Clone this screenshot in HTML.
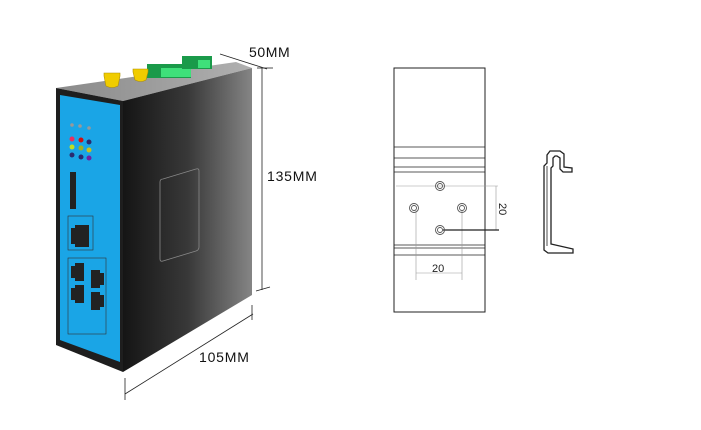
<!DOCTYPE html>
<html><head><meta charset="utf-8"><style>
html,body{margin:0;padding:0;background:#fff;}
svg{display:block;}
text{font-family:"Liberation Sans",sans-serif;}
</style></head><body>
<svg width="701" height="430" viewBox="0 0 701 430" xmlns="http://www.w3.org/2000/svg">
<defs>
<linearGradient id="side" x1="0" x2="1" y1="0" y2="0">
<stop offset="0" stop-color="#151515"/><stop offset="0.5" stop-color="#383838"/><stop offset="1" stop-color="#858585"/>
</linearGradient>
<linearGradient id="top" x1="0" x2="1"><stop offset="0" stop-color="#8a8a8a"/><stop offset="1" stop-color="#b0b0b0"/></linearGradient>
</defs>
<!-- top face -->
<polygon points="56,88 123,101 252,68 236,62" fill="url(#top)"/>
<!-- connectors -->
<rect x="147" y="64" width="44" height="14" fill="#1a9a4a"/>
<rect x="161" y="68" width="30" height="9" fill="#3fe07a"/>
<rect x="182" y="56" width="30" height="13" fill="#1a9a4a"/>
<rect x="198" y="60" width="12" height="8" fill="#3fe07a"/>
<path d="M104,73 h16 v3 l-2,10 q-6,3 -12,0 l-2,-10 z" fill="#f0cc00" stroke="#b09000" stroke-width="0.6"/>
<path d="M133,69 h15 v3 l-2,8 q-5,3 -11,0 l-2,-8 z" fill="#f0cc00" stroke="#b09000" stroke-width="0.6"/>
<!-- side face -->
<polygon points="123,101 252,68 252,295 123,372" fill="url(#side)"/>
<path d="M160,182 q0,-3 3,-3 l33,-10 q3,-1 3,2 v76 q0,3 -3,4 l-33,10 q-3,1 -3,-2 z" fill="none" stroke="#888" stroke-width="0.8"/>
<!-- front frame -->
<polygon points="56,88 123,101 123,372 56,345" fill="#1e1e1e"/>
<polygon points="60,95 120,105 120,362 60,340" fill="#1aa5e6"/>
<!-- LEDs -->
<g fill="#999"><circle cx="72" cy="125" r="1.8"/><circle cx="80" cy="126" r="1.8"/><circle cx="89" cy="128" r="1.8"/></g>
<circle cx="72" cy="139" r="2.5" fill="#e83060"/><circle cx="81" cy="140" r="2.5" fill="#d01010"/><circle cx="89" cy="142" r="2.5" fill="#2a2a70"/>
<circle cx="72" cy="147" r="2.5" fill="#c0e020"/><circle cx="81" cy="148" r="2.5" fill="#a0b020"/><circle cx="89" cy="150" r="2.5" fill="#c8c020"/>
<circle cx="72" cy="155" r="2.5" fill="#2a2a70"/><circle cx="81" cy="157" r="2.5" fill="#2a2a70"/><circle cx="89" cy="158" r="2.5" fill="#7020a0"/>
<rect x="70" y="172" width="6" height="37" fill="#222"/>
<!-- ports -->
<rect x="68" y="216" width="25" height="34" fill="none" stroke="#333" stroke-width="0.6"/>
<path d="M71,228 h4 v-3 h14 v22 h-14 v-3 h-4 z" fill="#222"/>
<rect x="68" y="258" width="38" height="76" fill="none" stroke="#333" stroke-width="0.6"/>
<path d="M71,266 h4 v-3 h9 v18 h-9 v-3 h-4 z" fill="#222"/>
<path d="M71,288 h4 v-3 h9 v18 h-9 v-3 h-4 z" fill="#222"/>
<path d="M91,270 h9 v3 h4 v12 h-4 v3 h-9 z" fill="#222"/>
<path d="M91,292 h9 v3 h4 v12 h-4 v3 h-9 z" fill="#222"/>
<!-- dimension lines -->
<g stroke="#222" stroke-width="0.8" fill="none">
<line x1="220" y1="54" x2="267" y2="69"/>
<line x1="257" y1="68" x2="273" y2="68"/>
<line x1="262" y1="68" x2="262" y2="290"/>
<line x1="256" y1="291" x2="270" y2="287"/>
<line x1="125" y1="394" x2="253" y2="314"/>
<line x1="125" y1="378" x2="125" y2="400"/>
<line x1="252" y1="305" x2="252" y2="320"/>
</g>
<text x="249" y="57" font-size="14" letter-spacing="0.6" fill="#111">50MM</text>
<text x="267" y="181" font-size="14" letter-spacing="0.8" fill="#111">135MM</text>
<text x="199" y="362" font-size="14" letter-spacing="0.8" fill="#111">105MM</text>
<!-- DIN rail diagram -->
<g stroke="#222" fill="none">
<rect x="394" y="68" width="91" height="244" stroke-width="1"/>
<g stroke-width="0.8">
<line x1="394" y1="147" x2="485" y2="147"/><line x1="394" y1="158" x2="485" y2="158"/>
<line x1="394" y1="167" x2="485" y2="167"/><line x1="394" y1="172" x2="485" y2="172"/>
<line x1="394" y1="245" x2="485" y2="245"/><line x1="394" y1="248" x2="485" y2="248"/>
<line x1="394" y1="255" x2="485" y2="255"/>
</g>
<g stroke="#999" stroke-width="0.6">
<line x1="396" y1="186" x2="498" y2="186"/>
<line x1="416" y1="210" x2="416" y2="280"/><line x1="462" y1="210" x2="462" y2="280"/>
<line x1="416" y1="273" x2="462" y2="273"/>
<line x1="496" y1="186" x2="496" y2="230"/>
</g>
<line x1="443" y1="230" x2="499" y2="230" stroke-width="1.2"/>
<g stroke="#555" stroke-width="0.9">
<circle cx="440" cy="186" r="4.5"/><circle cx="440" cy="186" r="2.5"/>
<circle cx="414" cy="208" r="4.5"/><circle cx="414" cy="208" r="2.5"/>
<circle cx="462" cy="208" r="4.5"/><circle cx="462" cy="208" r="2.5"/>
<circle cx="440" cy="230" r="4.5"/><circle cx="440" cy="230" r="2.5"/>
</g>
<path d="M544,250 V166 L547,163 V155 L550,151 H560 L564,154 V167 L572,168 V172 H563 L560,169 V158 L557,156 H555 L553,158 V166 L551,168 V244 L573,249 V253 H548 L544,250 Z" stroke-width="1.3"/>
<line x1="547" y1="166" x2="547" y2="246" stroke-width="0.8"/>
</g>
<text x="432" y="272" font-size="11" fill="#222">20</text>
<text x="0" y="0" font-size="11" fill="#222" transform="translate(499,203) rotate(90)">20</text>
</svg>
</body></html>
